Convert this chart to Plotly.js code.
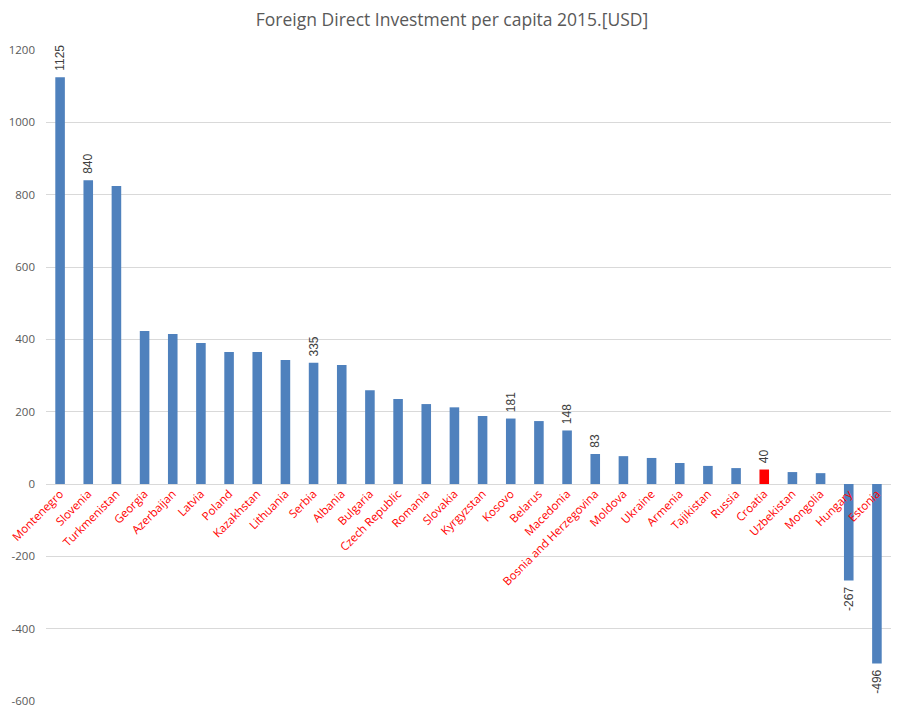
<!DOCTYPE html>
<html>
<head>
<meta charset="utf-8">
<script src="https://cdn.plot.ly/plotly-3.0.1.min.js"></script>
<style>body{margin:0;padding:0;background:#fff}#chart{width:904px;height:716px}</style>
</head>
<body>
<div id="chart"></div>
<script>
const countries = ["Montenegro","Slovenia","Turkmenistan","Georgia","Azerbaijan","Latvia","Poland","Kazakhstan","Lithuania","Serbia","Albania","Bulgaria","Czech Republic","Romania","Slovakia","Kyrgyzstan","Kosovo","Belarus","Macedonia","Bosnia and Herzegovina","Moldova","Ukraine","Armenia","Tajikistan","Russia","Croatia","Uzbekistan","Mongolia","Hungary","Estonia"];
const fdiPerCapita = [1125,840,824,423,415,390,365,365,343,335,329,259,235,221,212,188,181,174,148,83,77,72,58,50,44,40,33,30,-267,-496];
const labelled = ["Montenegro","Slovenia","Serbia","Kosovo","Macedonia","Bosnia and Herzegovina","Croatia","Hungary","Estonia"];
const highlight = "Croatia";
const yTicks = [-600,-400,-200,0,200,400,600,800,1000,1200];

const colors = countries.map(c => c === highlight ? "#ff0000" : "#4f81bd");
const pad = "\u00a0";
const texts = countries.map((c,i) => {
  if (!labelled.includes(c)) return "";
  const v = fdiPerCapita[i];
  return v >= 0 ? pad + String(v) : String(v) + pad;
});

const trace = {
  type: "bar",
  x: countries,
  y: fdiPerCapita,
  marker: {color: colors},
  text: texts,
  textposition: "outside",
  textangle: -90,
  constraintext: "none",
  cliponaxis: false,
  textfont: {family: "Liberation Sans, Arial, sans-serif", size: 12, color: "#404040"},
  hoverinfo: "x+y"
};

const layout = {
  width: 904, height: 716,
  paper_bgcolor: "#fff", plot_bgcolor: "#fff",
  margin: {l: 46, r: 13, t: 50, b: 15},
  bargap: 0.66,
  showlegend: false,
  title: {
    text: "Foreign Direct Investment per capita 2015.[USD]",
    font: {family: "Open Sans, Liberation Sans, sans-serif", size: 17.5, color: "#595959"},
    x: 0.5, xanchor: "center", y: 0.972, yanchor: "middle"
  },
  xaxis: {
    type: "category",
    anchor: "free",
    position: 1/3,
    tickangle: -45,
    tickfont: {family: "Open Sans, Liberation Sans, sans-serif", size: 11.5, color: "#ff0000"},
    showgrid: false,
    showline: false,
    ticks: "",
    zeroline: false,
    automargin: false
  },
  yaxis: {
    range: [-600, 1200],
    tickvals: yTicks,
    ticktext: yTicks.map(String),
    tickfont: {family: "Open Sans, Liberation Sans, sans-serif", size: 11.5, color: "#595959"},
    gridcolor: "#d9d9d9",
    gridwidth: 1,
    zeroline: true,
    zerolinecolor: "#d9d9d9",
    zerolinewidth: 1,
    showline: false,
    ticks: "",
    ticklabelstandoff: 10,
    automargin: false
  }
};

Plotly.newPlot("chart", [trace], layout, {displayModeBar: false, staticPlot: true});
</script>
</body>
</html>
